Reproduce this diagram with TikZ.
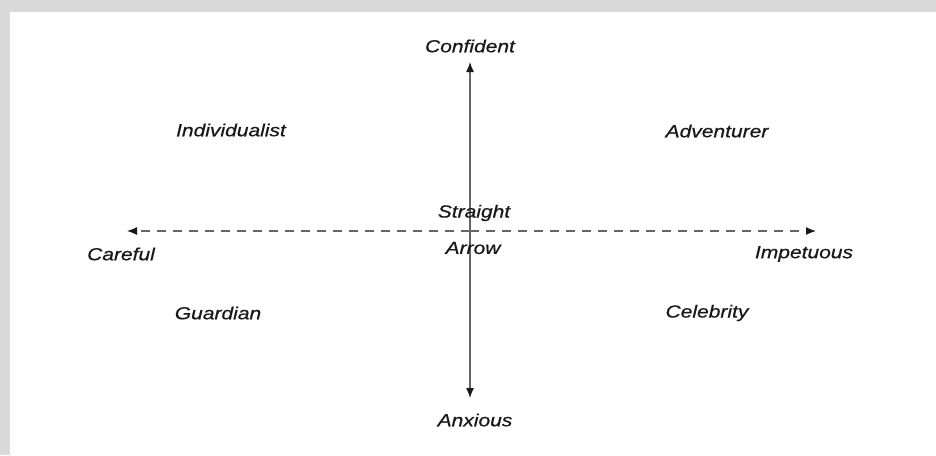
\documentclass[tikz,border=0pt]{standalone}
\usepackage{fontspec}
\setmainfont{Liberation Sans}[FakeStretch=1.2, FakeBold=0.6]
\usetikzlibrary{arrows.meta}
\begin{document}
\begin{tikzpicture}[x=1pt,y=-1pt,
  lbl/.style={font=\fontsize{17.5}{19}\selectfont\itshape, text=black!90, inner sep=0pt, anchor=center},
  axis/.style={line width=1.3pt, draw=black!60, -{Latex[length=10pt,width=8pt,black!90]}},
  dashaxis/.style={axis, dash pattern=on 9pt off 7pt}]
  % frame
  \useasboundingbox (0,0) rectangle (936,455);
  \fill[black!15] (0,0) rectangle (936,455);
  \fill[white] (10,12) rectangle (936,455);
  % axis end points
  \coordinate (center) at (470,231);
  \coordinate (top) at (470,62);
  \coordinate (bottom) at (470,398);
  \coordinate (left) at (127,231);
  \coordinate (right) at (816,231);
  \draw[axis] (center) -- (top);
  \draw[axis] (center) -- (bottom);
  \draw[dashaxis] (center) -- (left);
  \draw[dashaxis] (center) -- (right);
  % labels
  \node[lbl] (confident) at (470,46) {Confident};
  \node[lbl] (anxious) at (475,420) {Anxious};
  \node[lbl] (careful) at (121,254) {Careful};
  \node[lbl] (impetuous) at (804,254) {Impetuous};
  \node[lbl] (straight) at (474,213) {Straight};
  \node[lbl] (arrow) at (473,248) {Arrow};
  \node[lbl] (individualist) at (231,130) {Individualist};
  \node[lbl] (adventurer) at (717,131) {Adventurer};
  \node[lbl] (guardian) at (218,313) {Guardian};
  \node[lbl] (celebrity) at (707,313) {Celebrity};
\end{tikzpicture}
\end{document}
